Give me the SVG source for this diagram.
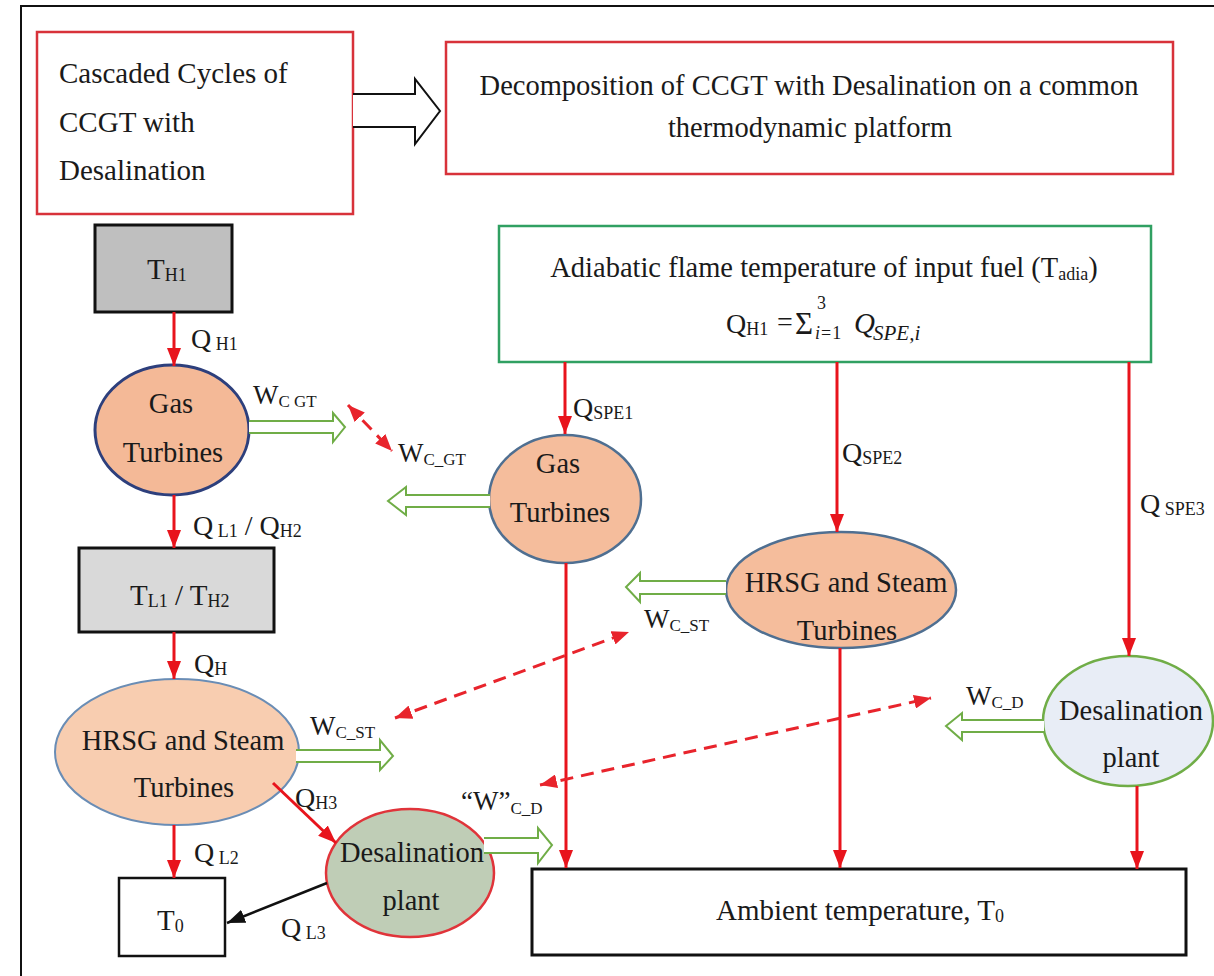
<svg xmlns="http://www.w3.org/2000/svg" width="1214" height="976" viewBox="0 0 1214 976">
<style>
text{font-family:"Liberation Serif","Times New Roman","DejaVu Serif",serif;fill:#1a1a1a}
.t29{font-size:29px}
.t28{font-size:28.5px}
.mid{text-anchor:middle}
.lbl{font-size:28px}
.wl{font-size:27px}
.sub{font-size:18px}
.sub2{font-size:17px}
.red{stroke:#e8141c;stroke-width:3;fill:none}
.dash{stroke:#e8242c;stroke-width:3;fill:none;stroke-dasharray:13 8}
.hollow{fill:#fff;stroke:#70ad47;stroke-width:2}
</style>
<defs>
<marker id="rh" markerUnits="userSpaceOnUse" markerWidth="18" markerHeight="14" refX="18" refY="7" orient="auto"><path d="M0,0 L18,7 L0,14 z" fill="#e8141c"/></marker>
<marker id="rd" markerUnits="userSpaceOnUse" markerWidth="17" markerHeight="14" refX="17" refY="7" orient="auto-start-reverse"><path d="M0,0 L17,7 L0,14 z" fill="#e8242c"/></marker>
<marker id="bh" markerUnits="userSpaceOnUse" markerWidth="18" markerHeight="14" refX="18" refY="7" orient="auto"><path d="M0,0 L18,7 L0,14 z" fill="#111"/></marker>
</defs>
<rect width="1214" height="976" fill="#fff"/>
<path d="M21,976 V6 H1214" fill="none" stroke="#111" stroke-width="2"/>

<g id="box-cascaded">
<rect x="37" y="32" width="316" height="182" fill="#fff" stroke="#d8323a" stroke-width="2.5"/>
<text class="t29" x="59" y="83">Cascaded Cycles of</text>
<text class="t29" x="59" y="132">CCGT with</text>
<text class="t29" x="59" y="180">Desalination</text>
</g>

<g id="box-decomposition">
<rect x="446" y="42" width="727" height="132" fill="#fff" stroke="#d8323a" stroke-width="2.5"/>
<text class="t28 mid" x="809" y="95">Decomposition of CCGT with Desalination on a common</text>
<text class="t28 mid" x="810" y="137">thermodynamic platform</text>
</g>

<g id="box-adiabatic">
<rect x="499" y="226" width="652" height="136" fill="#fff" stroke="#30a062" stroke-width="2.5"/>
<text class="t28 mid" x="824" y="277">Adiabatic flame temperature of input fuel (T<tspan class="sub" dy="3">adia</tspan><tspan dy="-3">)</tspan></text>
<text class="lbl" x="726" y="333">Q<tspan class="sub" dy="2">H1</tspan></text>
<text class="lbl" x="777" y="331">=</text>
<text style="font-size:31px" x="795" y="334">Σ</text>
<text style="font-size:18px" x="817" y="309">3</text>
<text style="font-size:18px" x="815" y="339"><tspan font-style="italic">i</tspan><tspan dx="1">=</tspan><tspan dx="1">1</tspan></text>
<text style="font-size:29px" x="854" y="333" font-style="italic">Q</text>
<text style="font-size:21px" x="873" y="340" font-style="italic">SPE,i</text>
</g>

<g id="node-TH1">
<rect x="95" y="225" width="137" height="87" fill="#bfbfbf" stroke="#111" stroke-width="3"/>
<text class="t29" x="147" y="279">T<tspan class="sub" dy="2">H1</tspan></text>
</g>

<g id="node-gt-left">
<ellipse cx="172" cy="430" rx="77" ry="65" fill="#f4b997" stroke="#2d3f7c" stroke-width="3"/>
<text class="t28 mid" x="171" y="413">Gas</text>
<text class="t28 mid" x="173" y="462">Turbines</text>
</g>

<g id="node-TL1">
<rect x="79" y="548" width="195" height="84" fill="#d9d9d9" stroke="#111" stroke-width="3"/>
<text class="t29" x="130" y="605">T<tspan class="sub" dy="2">L1</tspan><tspan dy="-2"> / T</tspan><tspan class="sub" dy="2">H2</tspan></text>
</g>

<g id="node-hrsg-left">
<ellipse cx="177" cy="752" rx="122" ry="73" fill="#f8cdb0" stroke="#6a8db5" stroke-width="2"/>
<text class="t28 mid" x="183" y="750">HRSG and Steam</text>
<text class="t28 mid" x="184" y="797">Turbines</text>
</g>

<g id="node-T0">
<rect x="119" y="878" width="106" height="78" fill="#fff" stroke="#111" stroke-width="2.5"/>
<text class="t29" x="157" y="930">T<tspan class="sub" dy="2">0</tspan></text>
</g>

<g id="node-desal-left">
<ellipse cx="410" cy="873" rx="84" ry="64" fill="#bfcdb6" stroke="#e0343a" stroke-width="2.5"/>
<text class="t28 mid" x="412" y="862">Desalination</text>
<text class="t28 mid" x="411" y="910">plant</text>
</g>

<g id="node-gt-mid">
<ellipse cx="565" cy="499" rx="76" ry="64" fill="#f5bd9c" stroke="#4f6f91" stroke-width="2.5"/>
<text class="t28 mid" x="558" y="473">Gas</text>
<text class="t28 mid" x="560" y="522">Turbines</text>
</g>

<g id="node-hrsg-mid">
<ellipse cx="841" cy="590" rx="115" ry="58" fill="#f5bd9c" stroke="#4f6f91" stroke-width="2.5"/>
<text class="t28 mid" x="846" y="592">HRSG and Steam</text>
<text class="t28 mid" x="847" y="640">Turbines</text>
</g>

<g id="node-desal-right">
<ellipse cx="1128" cy="721" rx="85" ry="65" fill="#e8edf6" stroke="#70ad47" stroke-width="2.5"/>
<text class="t28 mid" x="1131" y="720">Desalination</text>
<text class="t28 mid" x="1131" y="767">plant</text>
</g>

<g id="node-ambient">
<rect x="532" y="869" width="654" height="86" fill="#fff" stroke="#111" stroke-width="3"/>
<text class="t29 mid" x="860" y="920">Ambient temperature, T<tspan class="sub" dy="2">0</tspan></text>
</g>

<g id="connectors">
<path d="M353,94 H415 V79 L440,111 L415,144 V127 H353" fill="#fff" stroke="#111" stroke-width="2"/>

<line class="red" x1="174" y1="312" x2="174" y2="366" marker-end="url(#rh)"/>
<line class="red" x1="174" y1="495" x2="174" y2="548" marker-end="url(#rh)"/>
<line class="red" x1="174" y1="632" x2="174" y2="679" marker-end="url(#rh)"/>
<line class="red" x1="174" y1="825" x2="174" y2="878" marker-end="url(#rh)"/>
<line class="red" x1="273" y1="783" x2="336" y2="843" marker-end="url(#rh)"/>
<line x1="327" y1="883" x2="227" y2="923" stroke="#111" stroke-width="2.5" marker-end="url(#bh)"/>
<line class="red" x1="565" y1="362" x2="565" y2="434" marker-end="url(#rh)"/>
<line class="red" x1="837" y1="362" x2="837" y2="532" marker-end="url(#rh)"/>
<line class="red" x1="1129" y1="362" x2="1129" y2="656" marker-end="url(#rh)"/>
<line class="red" x1="566" y1="563" x2="566" y2="868" marker-end="url(#rh)"/>
<line class="red" x1="840" y1="648" x2="840" y2="868" marker-end="url(#rh)"/>
<line class="red" x1="1137" y1="786" x2="1137" y2="869" marker-end="url(#rh)"/>

<line class="dash" x1="348" y1="405" x2="392" y2="451" marker-start="url(#rd)" marker-end="url(#rd)"/>
<line class="dash" x1="395" y1="718" x2="629" y2="632" marker-start="url(#rd)" marker-end="url(#rd)"/>
<line class="dash" x1="540" y1="785" x2="931" y2="698" marker-start="url(#rd)" marker-end="url(#rd)"/>

<path class="hollow" d="M249,421 H333 V413 L345,427 L333,442 V433 H249"/>
<path class="hollow" d="M490,495 H406 V487 L388,501 L406,515 V507 H490"/>
<path class="hollow" d="M296,750 H380 V740 L393,756 L380,770 V762 H296"/>
<path class="hollow" d="M726,581 H640 V573 L626,587 L640,602 V594 H726"/>
<path class="hollow" d="M484,838 H538 V828 L552,845 L538,863 V853 H484"/>
<path class="hollow" d="M1044,720 H962 V713 L946,726 L962,740 V732 H1044"/>

<text class="lbl" x="191" y="348">Q<tspan class="sub" dy="2"> H1</tspan></text>
<text class="wl" x="253" y="404">W<tspan class="sub2" dy="3">C GT</tspan></text>
<text class="wl" x="398" y="462">W<tspan class="sub2" dy="3">C_GT</tspan></text>
<text class="lbl" x="193" y="535">Q<tspan class="sub" dy="2"> L1</tspan><tspan dy="-2"> / Q</tspan><tspan class="sub" dy="2">H2</tspan></text>
<text class="lbl" x="194" y="673">Q<tspan class="sub" dy="2">H</tspan></text>
<text class="wl" x="310" y="735">W<tspan class="sub2" dy="3">C_ST</tspan></text>
<text class="lbl" x="295" y="807">Q<tspan class="sub" dy="2">H3</tspan></text>
<text class="wl" x="461" y="810">“W”<tspan class="sub2" dy="4">C_D</tspan></text>
<text class="lbl" x="194" y="862">Q<tspan class="sub" dy="2"> L2</tspan></text>
<text class="lbl" x="281" y="937">Q<tspan class="sub" dy="2"> L3</tspan></text>
<text class="lbl" x="573" y="417">Q<tspan class="sub" dy="2">SPE1</tspan></text>
<text class="lbl" x="842" y="462">Q<tspan class="sub" dy="2">SPE2</tspan></text>
<text class="wl" x="644" y="628">W<tspan class="sub2" dy="3">C_ST</tspan></text>
<text class="lbl" x="1140" y="513">Q<tspan class="sub" dy="2"> SPE3</tspan></text>
<text class="wl" x="966" y="705">W<tspan class="sub2" dy="3">C_D</tspan></text>
</g>
</svg>
